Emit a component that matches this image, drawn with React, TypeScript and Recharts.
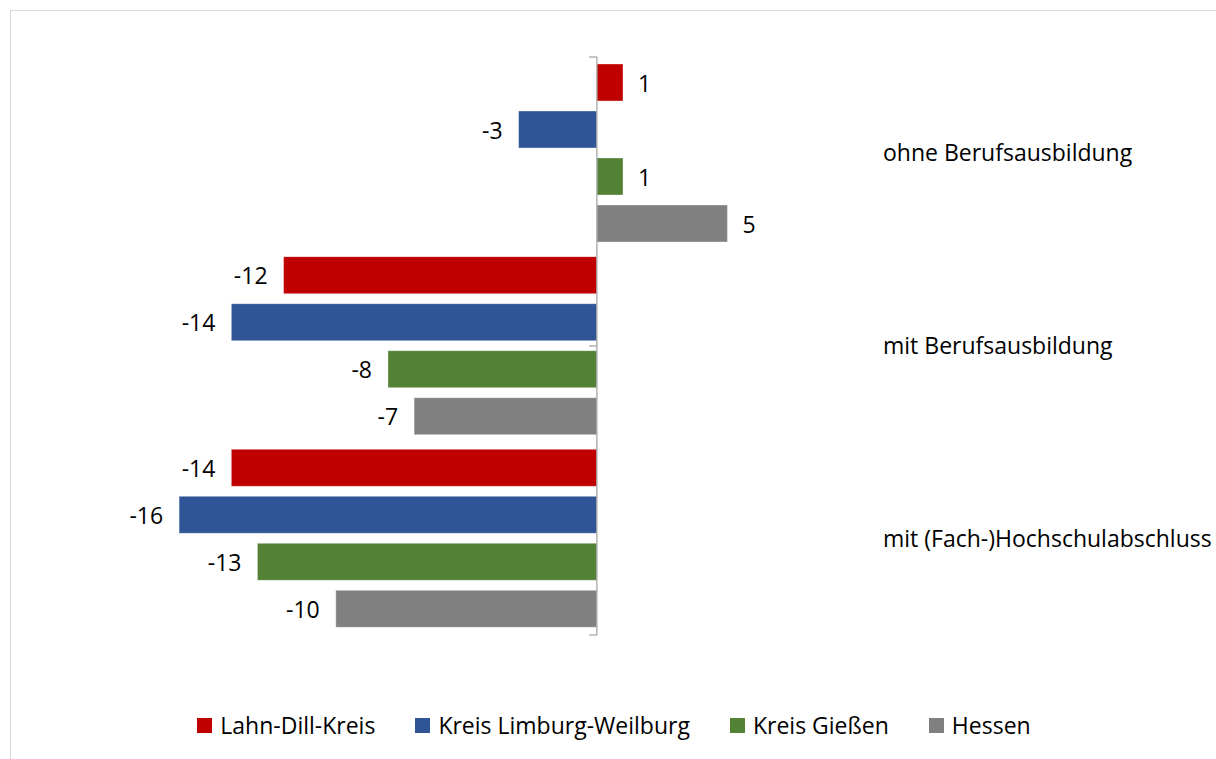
import React from 'react';
import { BarChart, Bar, XAxis, YAxis, ReferenceLine, LabelList } from 'recharts';

const categories = ['ohne Berufsausbildung', 'mit Berufsausbildung', 'mit (Fach-)Hochschulabschluss'];
const lahnDill = [1, -12, -14];
const limburg = [-3, -14, -16];
const giessen = [1, -8, -13];
const hessen = [5, -7, -10];

const series = [
    { key: 'lahnDill', label: 'Lahn-Dill-Kreis', color: '#C00000', values: lahnDill },
    { key: 'limburg', label: 'Kreis Limburg-Weilburg', color: '#2F5597', values: limburg },
    { key: 'giessen', label: 'Kreis Gießen', color: '#538135', values: giessen },
    { key: 'hessen', label: 'Hessen', color: '#808080', values: hessen },
];

// band boundaries for the small tick marks on the zero axis
const boundaryTicks = [0, 1, 2, 3];

const data = categories.map((name, i) => {
    const row: Record<string, string | number> = { name };
    series.forEach(s => { row[s.key] = s.values[i]; });
    return row;
});

const FONT = '"Open Sans", Lato, sans-serif';
const FS = 23;

const ValueLabel = (props: any) => {
    const { x, y, width, height, value } = props;
    const left = Math.min(x, x + width);
    const right = Math.max(x, x + width);
    const cy = y + height / 2;
    const pos = value >= 0;
    return (
        <text
            x={pos ? right + 15 : left - 16}
            y={cy}
            textAnchor={pos ? 'start' : 'end'}
            dominantBaseline="central"
            fontSize={FS}
            fontFamily={FONT}
            fill="#000"
        >
            {value}
        </text>
    );
};

export default function App() {
    return (
        <div
            style={{
                position: 'absolute',
                left: 10,
                top: 10,
                width: 1220,
                height: 760,
                border: '1px solid #d9d9d9',
                boxSizing: 'border-box',
                background: '#fff',
                fontFamily: FONT,
            }}
        >
            <BarChart
                width={1206}
                height={740}
                data={data}
                layout="vertical"
                margin={{ top: 46, right: 9, left: 142, bottom: 116 }}
                barSize={37}
                barGap={10}
            >
                <XAxis type="number" domain={[-17, 10]} hide />
                <YAxis yAxisId="grid" type="number" domain={[0, 3]} hide />
                <YAxis
                    dataKey="name"
                    type="category"
                    orientation="right"
                    width={350}
                    axisLine={false}
                    tickLine={false}
                    tick={{ fill: '#000', fontSize: FS, fontFamily: FONT, dx: 17 }}
                />
                {series.map(s => (
                    <Bar
                        key={s.key}
                        dataKey={s.key}
                        name={s.label}
                        fill={s.color}
                        stroke="#ffffff"
                        strokeOpacity={0.35}
                        isAnimationActive={false}
                    >
                        <LabelList dataKey={s.key} content={ValueLabel} />
                    </Bar>
                ))}
                <ReferenceLine x={0} stroke="#a6a6a6" strokeWidth={1.3} />
                {boundaryTicks.map(t => (
                    <ReferenceLine
                        key={t}
                        yAxisId="grid"
                        stroke="#a6a6a6"
                        strokeWidth={1.3}
                        segment={[{ x: -0.3, y: t }, { x: 0, y: t }]}
                    />
                ))}
            </BarChart>
            <div
                style={{
                    position: 'absolute',
                    left: 0,
                    top: 698,
                    width: 1206,
                    display: 'flex',
                    justifyContent: 'center',
                    gap: 40,
                    fontSize: FS,
                    color: '#000',
                }}
            >
                {series.map(s => (
                    <div key={s.key} style={{ display: 'flex', alignItems: 'center', gap: 8 }}>
                        <div style={{ width: 15, height: 15, background: s.color }} />
                        <span>{s.label}</span>
                    </div>
                ))}
            </div>
        </div>
    );
}
